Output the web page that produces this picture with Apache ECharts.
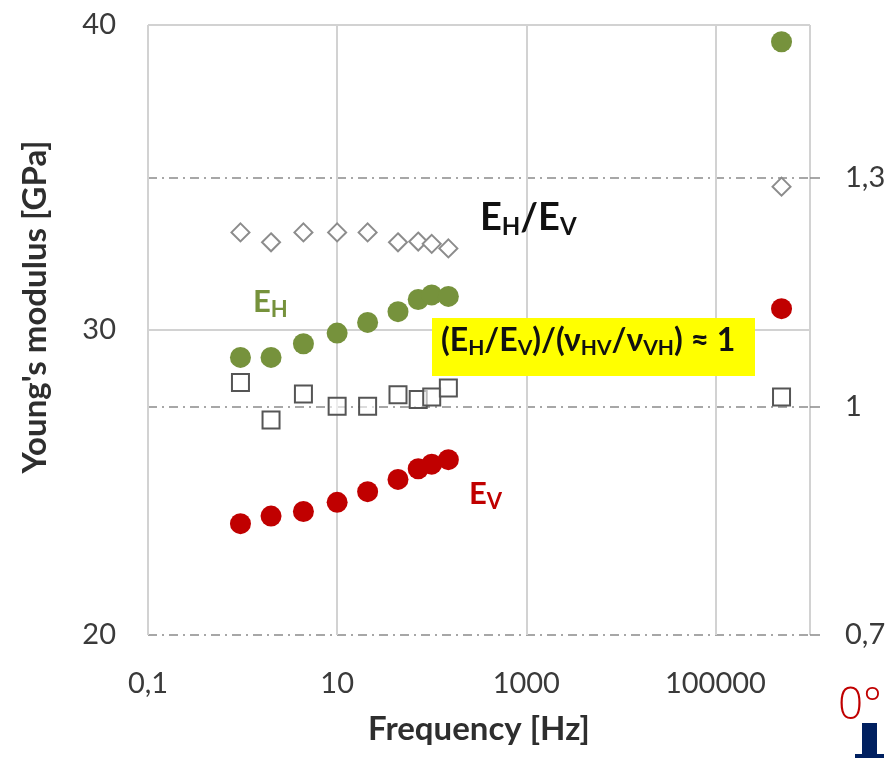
<!DOCTYPE html>
<html>
<head>
<meta charset="utf-8">
<script src="https://cdn.jsdelivr.net/npm/echarts@6/dist/echarts.min.js"></script>
<style>
  html, body { margin: 0; padding: 0; background: #fff; }
  #chart { width: 894px; height: 758px; }
</style>
</head>
<body>
<div id="chart"></div>
<script>
// Test frequencies [Hz]
const frequency = [0.95, 2, 4.4, 10, 21, 44, 72, 100, 150, 500000];
// Young's modulus, horizontal direction [GPa]
const modulusH = [29.1, 29.1, 29.55, 29.9, 30.25, 30.6, 31.0, 31.15, 31.1, 39.45];
// Young's modulus, vertical direction [GPa]
const modulusV = [23.65, 23.9, 24.05, 24.35, 24.7, 25.1, 25.45, 25.6, 25.75, 30.7];
// Anisotropy ratio E_H / E_V
const ratioE = [1.228, 1.215, 1.228, 1.228, 1.228, 1.215, 1.216, 1.213, 1.207, 1.288];
// (E_H/E_V) / (nu_HV/nu_VH)
const ratioCheck = [1.031, 0.982, 1.016, 1.0, 1.0, 1.015, 1.009, 1.012, 1.024, 1.012];

const pairs = (xs, ys) => xs.map((x, i) => [x, ys[i]]);
const comma = v => String(+(+v).toPrecision(6)).replace('.', ',');

const FONT = 'Lato, "Open Sans", sans-serif';
const TXT = '#3a3a3a';
const GRID = '#d2d2d2';
const DASHDOT = '#8a8a8a';

const chart = echarts.init(document.getElementById('chart'));
chart.setOption({
  animation: false,
  backgroundColor: '#fff',
  grid: { left: 148, right: 84, top: 25, bottom: 123 },
  xAxis: {
    type: 'log',
    logBase: 100,
    min: 0.1,
    max: 1000000,
    interval: 1,
    name: 'Frequency [Hz]',
    nameLocation: 'middle',
    nameGap: 78,
    nameTextStyle: { fontFamily: FONT, fontSize: 33, fontWeight: 'bold', color: '#2e2e2e' },
    axisLine: { show: false },
    axisTick: { show: false },
    axisLabel: {
      margin: 34, fontFamily: FONT, fontSize: 29, color: TXT,
      showMaxLabel: false, formatter: comma
    },
    splitLine: { show: true, lineStyle: { color: GRID, width: 2 } }
  },
  yAxis: [
    {
      type: 'value',
      min: 20, max: 40, interval: 10,
      name: "Young's modulus [GPa]",
      nameLocation: 'middle',
      nameRotate: 90,
      nameGap: 96,
      nameTextStyle: {
        fontFamily: FONT, fontSize: 33, fontWeight: 'bold', color: '#2e2e2e',
        padding: [0, 0, 0, 46]
      },
      axisLine: { show: false },
      axisTick: { show: false },
      axisLabel: { margin: 32, fontFamily: FONT, fontSize: 29, color: TXT },
      splitLine: { show: true, showMinLine: false, lineStyle: { color: GRID, width: 2 } }
    },
    {
      type: 'value',
      position: 'right',
      min: 0.7, max: 1.5, interval: 0.3,
      axisLine: { show: false },
      axisTick: { show: true, inside: false, length: 10, lineStyle: { color: DASHDOT, width: 1.5 } },
      axisLabel: {
        margin: 35, fontFamily: FONT, fontSize: 29, color: TXT,
        showMaxLabel: false, formatter: comma
      },
      splitLine: {
        show: true, showMaxLine: false,
        lineStyle: { color: DASHDOT, width: 1.5, type: [9, 5, 2, 5] }
      }
    }
  ],
  series: [
    {
      name: 'E_H/E_V', type: 'scatter', yAxisIndex: 1,
      data: pairs(frequency, ratioE),
      symbol: 'diamond', symbolSize: [18, 18],
      itemStyle: { color: '#fff', borderColor: '#8c8c8c', borderWidth: 2, opacity: 1 }
    },
    {
      name: '(E_H/E_V)/(nu_HV/nu_VH)', type: 'scatter', yAxisIndex: 1,
      data: pairs(frequency, ratioCheck),
      symbol: 'rect', symbolSize: 17,
      itemStyle: { color: 'rgba(255,255,255,0.6)', borderColor: '#555', borderWidth: 2, opacity: 1 }
    },
    {
      name: 'E_H', type: 'scatter', yAxisIndex: 0,
      data: pairs(frequency, modulusH),
      symbol: 'circle', symbolSize: 21,
      itemStyle: { color: '#76923C', opacity: 1 }
    },
    {
      name: 'E_V', type: 'scatter', yAxisIndex: 0,
      data: pairs(frequency, modulusV),
      symbol: 'circle', symbolSize: 21,
      itemStyle: { color: '#C00000', opacity: 1 }
    }
  ],
  graphic: [
    {
      type: 'text', left: 480, top: 199, z: 10,
      style: {
        text: '{e|E}{s|H}{e|/E}{s|V}',
        rich: {
          e: { fontFamily: FONT, fontSize: 38, fontWeight: 'bold', fill: '#111' },
          s: { fontFamily: FONT, fontSize: 24, fontWeight: 'bold', fill: '#111', padding: [19, 0, 0, 0] }
        }
      }
    },
    {
      type: 'text', left: 253, top: 286, z: 10,
      style: {
        text: '{e|E}{s|H}',
        rich: {
          e: { fontFamily: FONT, fontSize: 31, fontWeight: 'bold', fill: '#76923C' },
          s: { fontFamily: FONT, fontSize: 22, fontWeight: 'bold', fill: '#76923C', padding: [16, 0, 0, 0] }
        }
      }
    },
    {
      type: 'text', left: 469, top: 478, z: 10,
      style: {
        text: '{e|E}{s|V}',
        rich: {
          e: { fontFamily: FONT, fontSize: 31, fontWeight: 'bold', fill: '#C00000' },
          s: { fontFamily: FONT, fontSize: 22, fontWeight: 'bold', fill: '#C00000', padding: [16, 0, 0, 0] }
        }
      }
    },
    {
      type: 'rect', z: 9,
      shape: { x: 432, y: 318, width: 323, height: 58 },
      style: { fill: '#FFFF00' }
    },
    {
      type: 'text', left: 441, top: 325, z: 10,
      style: {
        text: '{e|(E}{s|H}{e|/E}{s|V}{e|)/(ν}{s|HV}{e|/ν}{s|VH}{e|) ≈ 1}',
        rich: {
          e: { fontFamily: FONT, fontSize: 32, fontWeight: 'bold', fill: '#111' },
          s: { fontFamily: FONT, fontSize: 21, fontWeight: 'bold', fill: '#111', padding: [14, 0, 0, 0] }
        }
      }
    },
    {
      type: 'text', left: 838, top: 684, z: 10,
      style: { text: '0°', fontFamily: '"Open Sans", sans-serif', fontSize: 44, fontWeight: 300, fill: '#C00000' }
    },
    {
      type: 'rect', z: 10,
      shape: { x: 862, y: 723, width: 15, height: 35 },
      style: { fill: '#002060' }
    },
    {
      type: 'rect', z: 10,
      shape: { x: 855, y: 754, width: 29, height: 4 },
      style: { fill: '#002060' }
    }
  ]
});
</script>
</body>
</html>
